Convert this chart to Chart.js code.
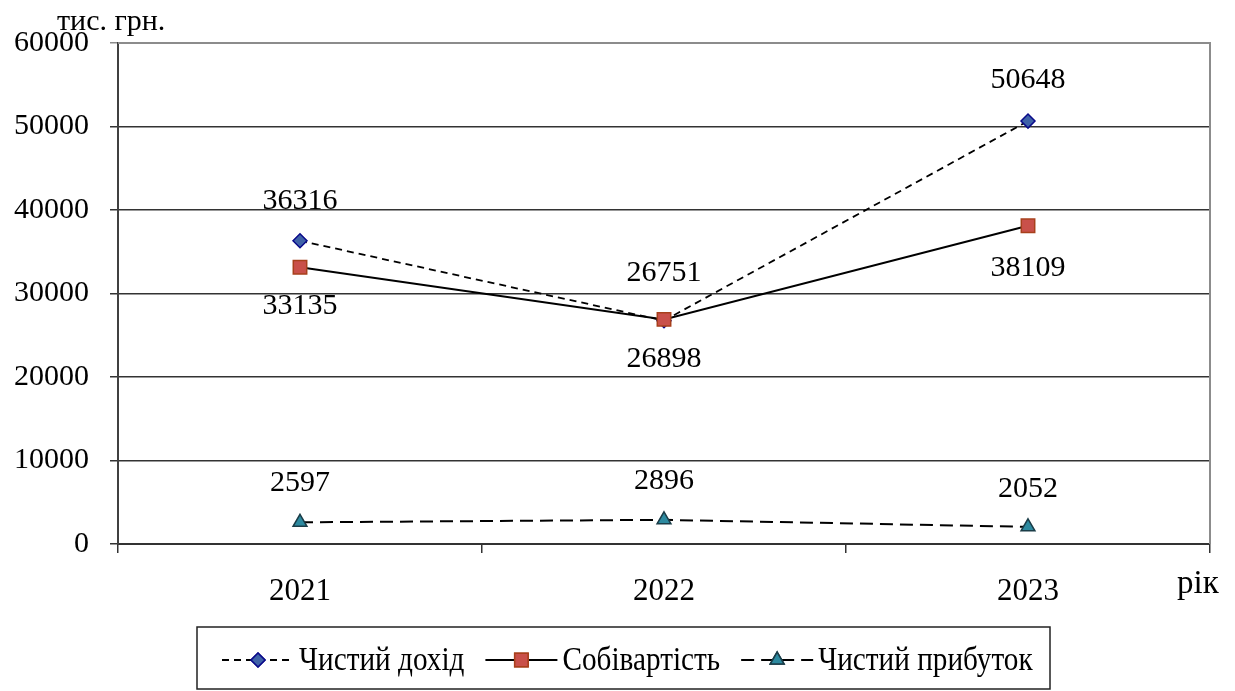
<!DOCTYPE html>
<html>
<head>
<meta charset="utf-8">
<script src="https://cdn.jsdelivr.net/npm/chart.js@4/dist/chart.umd.min.js"></script>
<style>
  html, body { margin: 0; padding: 0; background: #fff; }
  #wrap { width: 1235px; height: 691px; }
</style>
</head>
<body>
<div id="wrap"><canvas id="chart" width="1235" height="691"></canvas></div>
<script>
// --- дані ---
const years = ['2021', '2022', '2023'];
const netIncome = [36316, 26751, 50648];   // Чистий дохід
const costPrice = [33135, 26898, 38109];   // Собівартість
const netProfit = [2597, 2896, 2052];      // Чистий прибуток
const yTicks = [0, 10000, 20000, 30000, 40000, 50000, 60000];

const FONT = '"Liberation Serif", "Times New Roman", serif';

// підписи значень над / під точками
const valueLabels = {
  id: 'valueLabels',
  afterDatasetsDraw(chart) {
    const ctx = chart.ctx;
    ctx.save();
    ctx.font = '30px ' + FONT;
    ctx.fillStyle = '#000';
    ctx.textAlign = 'center';
    ctx.textBaseline = 'middle';
    chart.data.datasets.forEach((ds, i) => {
      const meta = chart.getDatasetMeta(i);
      meta.data.forEach((pt, j) => {
        const off = ds.labelPos[j] === 'below' ? ds.labelOff[j] : -ds.labelOff[j];
        ctx.fillText(String(ds.data[j]), pt.x, pt.y + off);
      });
    });
    ctx.restore();
  }
};

// рамка, підписи осей і легенда
const extras = {
  id: 'extras',
  afterDraw(chart) {
    const ctx = chart.ctx;
    const a = chart.chartArea;
    ctx.save();
    // права і верхня рамка
    ctx.strokeStyle = '#8c8c8c';
    ctx.lineWidth = 2;
    ctx.beginPath();
    ctx.moveTo(a.left, a.top);
    ctx.lineTo(a.right, a.top);
    ctx.lineTo(a.right, a.bottom);
    ctx.stroke();

    ctx.fillStyle = '#000';
    ctx.font = '30px ' + FONT;
    ctx.textBaseline = 'alphabetic';
    ctx.textAlign = 'left';
    ctx.fillText('тис. грн.', 57, 30);
    ctx.font = '33px ' + FONT;
    ctx.fillText('рік', 1177, 593);

    // легенда
    const box = { x: 197, y: 627, w: 853, h: 62 };
    ctx.strokeStyle = '#222';
    ctx.lineWidth = 1.5;
    ctx.strokeRect(box.x, box.y, box.w, box.h);
    const cy = box.y + 33;
    const sx = 0.86;
    ctx.font = '34px ' + FONT;
    let x = box.x + 25;
    chart.data.datasets.forEach(ds => {
      const sw = 72;
      ctx.strokeStyle = '#000';
      ctx.lineWidth = ds.borderWidth;
      ctx.setLineDash(ds.borderDash || []);
      ctx.beginPath();
      ctx.moveTo(x, cy);
      ctx.lineTo(x + sw, cy);
      ctx.stroke();
      ctx.setLineDash([]);
      ctx.fillStyle = ds.pointBackgroundColor;
      ctx.strokeStyle = ds.pointBorderColor;
      ctx.lineWidth = ds.pointBorderWidth;
      Chart.helpers.drawPoint(ctx, { pointStyle: ds.pointStyle, radius: ds.pointRadius, rotation: 0, borderWidth: ds.pointBorderWidth }, x + sw / 2, cy);
      ctx.fill();
      ctx.stroke();
      x += sw + 5;
      ctx.fillStyle = '#000';
      ctx.textBaseline = 'middle';
      ctx.save();
      ctx.translate(x, cy + 1);
      ctx.scale(sx, 1);
      ctx.fillText(ds.label, 0, 0);
      ctx.restore();
      x += ctx.measureText(ds.label).width * sx + 21;
    });
    ctx.restore();
  }
};

new Chart(document.getElementById('chart'), {
  type: 'line',
  data: {
    labels: years,
    datasets: [
      {
        label: 'Чистий дохід',
        data: netIncome,
        borderColor: '#000',
        borderWidth: 1.8,
        borderDash: [7, 5],
        pointStyle: 'rectRot',
        pointRadius: 7,
        pointBackgroundColor: '#3f62a8',
        pointBorderColor: '#0a0a8a',
        pointBorderWidth: 1.5,
        labelPos: ['above', 'above', 'above'],
        labelOff: [40, 48, 41],
        order: 2
      },
      {
        label: 'Собівартість',
        data: costPrice,
        borderColor: '#000',
        borderWidth: 2,
        pointStyle: 'rect',
        pointRadius: 9.5,
        pointBackgroundColor: '#c9504a',
        pointBorderColor: '#a8401c',
        pointBorderWidth: 1.5,
        labelPos: ['below', 'below', 'below'],
        labelOff: [39, 40, 42],
        order: 1
      },
      {
        label: 'Чистий прибуток',
        data: netProfit,
        borderColor: '#000',
        borderWidth: 2,
        borderDash: [13, 7],
        pointStyle: 'triangle',
        pointRadius: 8,
        pointBackgroundColor: '#2d8aa0',
        pointBorderColor: '#1b3d48',
        pointBorderWidth: 1.5,
        labelPos: ['above', 'above', 'above'],
        labelOff: [39, 39, 38],
        order: 3
      }
    ]
  },
  options: {
    responsive: false,
    animation: false,
    layout: { padding: { top: 43, right: 25, left: 0, bottom: 0 } },
    plugins: {
      legend: { display: false },
      tooltip: { enabled: false }
    },
    elements: { line: { tension: 0 } },
    scales: {
      x: {
        type: 'category',
        offset: true,
        grid: {
          offset: true,
          drawOnChartArea: false,
          drawTicks: true,
          tickLength: 9,
          color: '#333',
          lineWidth: 1.5
        },
        border: { display: true, color: '#333', width: 2 },
        ticks: {
          font: { family: FONT, size: 31 },
          color: '#000',
          padding: 20
        },
        afterFit(scale) { scale.height = 147; }
      },
      y: {
        min: 0,
        max: 60000,
        afterBuildTicks(scale) { scale.ticks = yTicks.map(v => ({ value: v })); },
        grid: {
          color: ctx => (ctx.tick && ctx.tick.value === 60000 ? '#8c8c8c' : '#333'),
          lineWidth: 1.5,
          tickLength: 8,
          drawTicks: true
        },
        border: { display: true, color: '#404040', width: 2 },
        ticks: {
          font: { family: FONT, size: 30 },
          color: '#000',
          padding: 21,
          callback: v => String(v)
        },
        afterFit(scale) { scale.width = 118; }
      }
    }
  },
  plugins: [valueLabels, extras]
});
</script>
</body>
</html>
